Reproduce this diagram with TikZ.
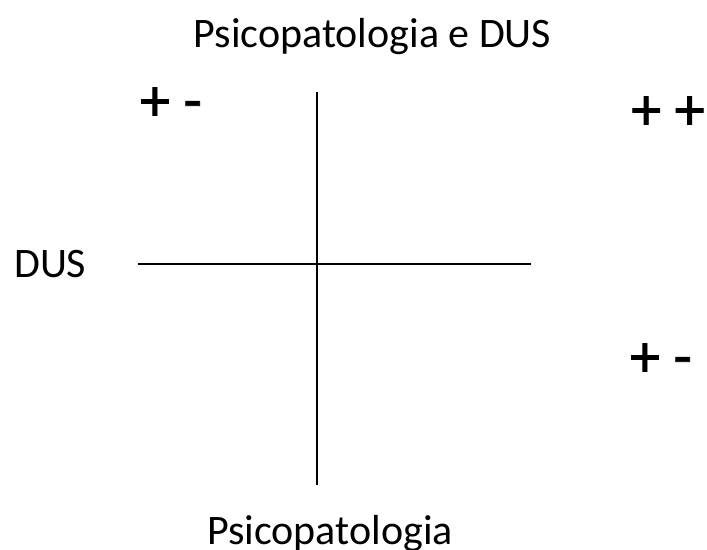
\documentclass[tikz,border=0pt]{standalone}
\usepackage{fontspec}
\setmainfont{Carlito}
\newfontfamily\sgnfont{Carlito}[FakeBold=1.3]
\begin{document}
\begin{tikzpicture}[x=1pt,y=-1pt,
  lbl/.style={inner sep=0pt,anchor=base,font=\fontsize{42}{50}\selectfont},
  sgn/.style={inner sep=0pt,anchor=center,font=\sgnfont\fontsize{60}{64}\selectfont},
  axis/.style={line width=2.7pt,black}]
\useasboundingbox (0,0) rectangle (707,549);
\node[lbl] (title) at (372.5,47) {Psicopatologia e DUS};
\node[lbl] (bottom) at (330,544) {Psicopatologia};
\node[lbl,anchor=base west] (dus) at (14,277) {DUS};
\node[sgn] (s1) at (171,104) {+ -};
\node[sgn] (s2) at (668,113) {+ +};
\node[sgn] (s3) at (661,360) {+ -};
\coordinate (vt) at (317,92);
\coordinate (vb) at (317,485);
\coordinate (hl) at (138,264);
\coordinate (hr) at (531,264);
\draw[axis] (vt) -- (vb);
\draw[axis] (hl) -- (hr);
\end{tikzpicture}
\end{document}
